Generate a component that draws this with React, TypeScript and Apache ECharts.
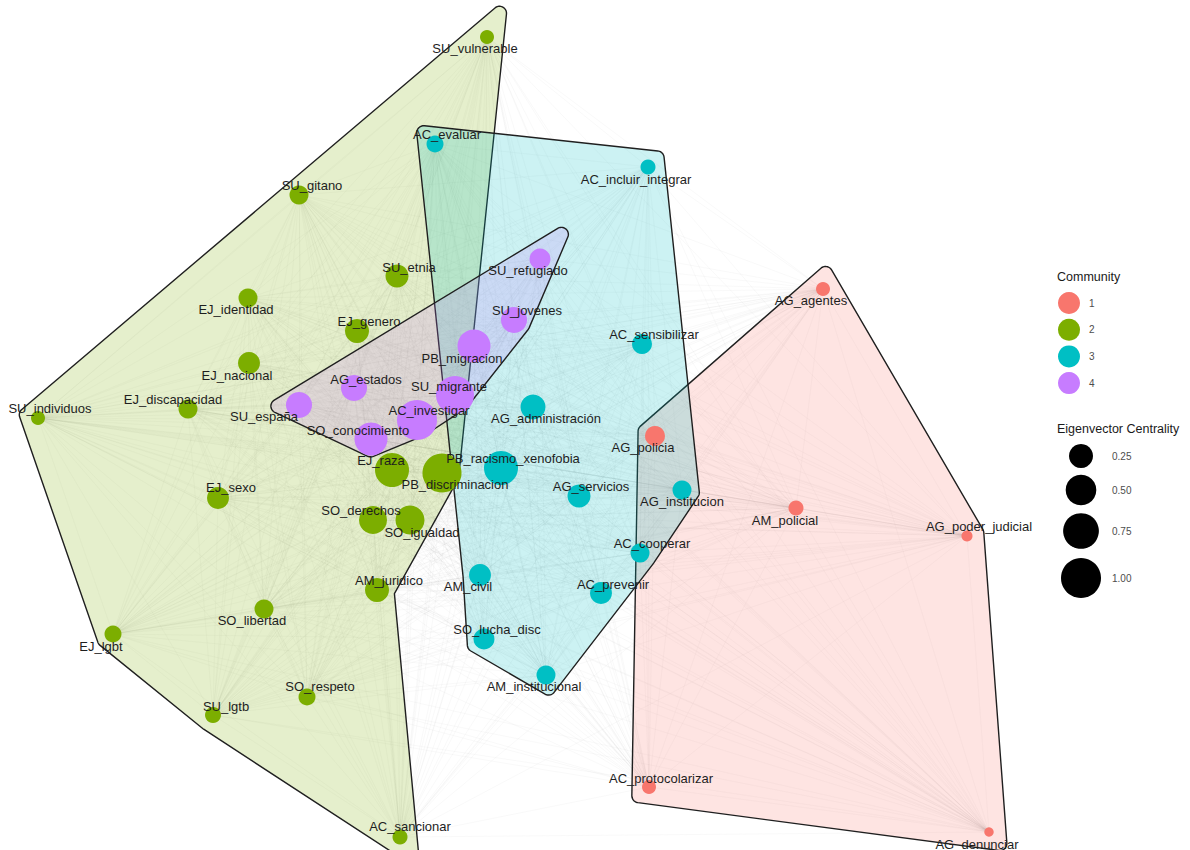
import React, { useEffect, useRef } from "react";
import * as echarts from "echarts";

// ---------------- DATA ----------------
const nodeNames = [
  "AG_agentes", "AG_policia", "AM_policial", "AG_poder_judicial", "AC_protocolarizar", "AG_denunciar",
  "SU_vulnerable", "SU_gitano", "SU_etnia", "EJ_identidad", "EJ_genero", "EJ_nacional", "EJ_discapacidad",
  "SU_individuos", "EJ_raza", "PB_discriminacion", "EJ_sexo", "SO_derechos", "SO_igualdad", "AM_juridico",
  "SO_libertad", "EJ_lgbt", "SO_respeto", "SU_lgtb", "AC_sancionar",
  "AC_evaluar", "AC_incluir_integrar", "AC_sensibilizar", "AG_administración", "PB_racismo_xenofobia",
  "AG_servicios", "AG_institucion", "AC_cooperar", "AC_prevenir", "AM_civil", "SO_lucha_disc", "AM_institucional",
  "SU_refugiado", "SU_jovenes", "PB_migracion", "AG_estados", "SU_migrante", "SU_españa", "AC_investigar",
  "SO_conocimiento",
];
// layout coordinates
const layoutX = [
  823, 655, 796, 967, 649, 989,
  487, 299, 397, 248, 357, 249, 188,
  38, 392, 442, 218, 373, 410, 377,
  264, 113, 307, 213, 400,
  435, 648, 642, 533, 501,
  579, 682, 640, 601, 480, 484, 546,
  540, 514, 474, 354, 455, 299, 417,
  371,
];
const layoutY = [
  289, 436, 508, 536, 787, 832,
  37, 195, 276, 298, 331, 363, 409,
  418, 470, 473, 498, 520, 520, 590,
  609, 634, 697, 715, 837,
  144, 167, 344, 407, 468,
  496, 490, 553, 593, 575, 639, 675,
  259, 320, 346, 388, 395, 405, 420,
  439,
];
const communityOf = [
  1, 1, 1, 1, 1, 1,
  2, 2, 2, 2, 2, 2, 2,
  2, 2, 2, 2, 2, 2, 2,
  2, 2, 2, 2, 2,
  3, 3, 3, 3, 3,
  3, 3, 3, 3, 3, 3, 3,
  4, 4, 4, 4, 4, 4, 4,
  4,
];
const eigenCentrality = [
  0.035, 0.14, 0.048, 0.009, 0.035, 0.002,
  0.035, 0.118, 0.22, 0.118, 0.25, 0.19, 0.118,
  0.035, 0.66, 0.94, 0.19, 0.39, 0.43, 0.25,
  0.118, 0.079, 0.079, 0.0625, 0.048,
  0.079, 0.048, 0.14, 0.28, 0.66,
  0.22, 0.118, 0.118, 0.19, 0.19, 0.165, 0.118,
  0.165, 0.32, 0.61, 0.32, 0.88, 0.32, 1.0,
  0.61,
];

const communityLabels = ["1", "2", "3", "4"];
const sizeBreaks = [0.25, 0.5, 0.75, 1.0];
const sizeBreakLabels = ["0.25", "0.50", "0.75", "1.00"];

// outline order of each community's (concave) hull
const hullRed = ["AG_agentes", "AG_poder_judicial", "AG_denunciar", "AC_protocolarizar", "AG_policia"];
const hullGreen = ["SU_vulnerable", "PB_discriminacion", "AM_juridico", "AC_sancionar", "SU_lgtb", "EJ_lgbt", "SU_individuos"];
const hullCyan = ["AC_evaluar", "AC_incluir_integrar", "AG_institucion", "AC_cooperar", "AM_institucional", "SO_lucha_disc", "AM_civil"];
const hullPurple = ["SU_refugiado", "SU_jovenes", "SU_migrante", "AC_investigar", "SO_conocimiento", "SU_españa"];
const hulls = [hullRed, hullGreen, hullCyan, hullPurple];

// ---------------- STYLE ----------------
const COLORS = ["#F8766D", "#7CAE00", "#00BFC4", "#C77CFF"];
const FILLS = [
  "rgba(248,118,109,0.2)",
  "rgba(124,174,0,0.2)",
  "rgba(0,191,196,0.2)",
  "rgba(199,124,255,0.2)",
];
const FONT = "'Liberation Sans', Arial, Helvetica, sans-serif";
const sizeOf = (c: number) => 8 + 32 * Math.sqrt(c);

const labelNudge: Record<string, [number, number]> = {
  AG_agentes: [-12, 11], AG_policia: [-12, 11], AM_policial: [-11, 12], AG_poder_judicial: [12, -10],
  AC_protocolarizar: [12, -9], AG_denunciar: [-12, 12],
  SU_vulnerable: [-12, 11], SU_gitano: [13, -10], SU_etnia: [12, -9], EJ_identidad: [-12, 11],
  EJ_genero: [12, -10], EJ_nacional: [-12, 12], EJ_discapacidad: [-15, -10], SU_individuos: [12, -10],
  EJ_raza: [-11, -10], PB_discriminacion: [13, 11], EJ_sexo: [13, -11], SO_derechos: [-12, -10],
  SO_igualdad: [12, 12], AM_juridico: [12, -10], SO_libertad: [-12, 11], EJ_lgbt: [-12, 12],
  SO_respeto: [13, -11], SU_lgtb: [13, -9], AC_sancionar: [10, -11],
  AC_evaluar: [12, -10], AC_incluir_integrar: [-12, 12], AC_sensibilizar: [12, -10],
  "AG_administración": [13, 11], PB_racismo_xenofobia: [12, -10], AG_servicios: [12, -10],
  AG_institucion: [0, 11], AC_cooperar: [12, -10], AC_prevenir: [12, -9], AM_civil: [-12, 11],
  SO_lucha_disc: [13, -10], AM_institucional: [-12, 11],
  SU_refugiado: [-12, 11], SU_jovenes: [13, -10], PB_migracion: [-12, 12], AG_estados: [12, -9],
  SU_migrante: [-6, -9], "SU_españa": [-35, 11], AC_investigar: [12, -10], SO_conocimiento: [-13, -9],
};

// expanded, rounded outline around a polygon (screen coords)
function hullOutline(pts: number[][], E: number, R: number): number[][] {
  const n = pts.length;
  let area = 0;
  for (let i = 0; i < n; i++) {
    const a = pts[i], b = pts[(i + 1) % n];
    area += a[0] * b[1] - b[0] * a[1];
  }
  const s = area > 0 ? 1 : -1;
  const out: number[][] = [];
  for (let i = 0; i < n; i++) {
    const a = pts[(i - 1 + n) % n], b = pts[i], c = pts[(i + 1) % n];
    let d1x = b[0] - a[0], d1y = b[1] - a[1];
    const l1 = Math.hypot(d1x, d1y); d1x /= l1; d1y /= l1;
    let d2x = c[0] - b[0], d2y = c[1] - b[1];
    const l2 = Math.hypot(d2x, d2y); d2x /= l2; d2y /= l2;
    const n1x = s * d1y, n1y = -s * d1x;
    const n2x = s * d2y, n2y = -s * d2x;
    let mx = n1x + n2x, my = n1y + n2y;
    const ml = Math.hypot(mx, my) || 1; mx /= ml; my /= ml;
    const cosH = Math.max(0.2, mx * n1x + my * n1y);
    const cross = d1x * d2y - d1y * d2x;
    if (cross * s > 0) {
      const L = (E - R) / cosH;
      const qx = b[0] + mx * L, qy = b[1] + my * L;
      const a1 = Math.atan2(n1y, n1x);
      const a2 = Math.atan2(n2y, n2x);
      let delta = a2 - a1;
      while (delta > Math.PI) delta -= 2 * Math.PI;
      while (delta < -Math.PI) delta += 2 * Math.PI;
      const steps = Math.max(2, Math.ceil(Math.abs(delta) / (Math.PI / 24)));
      for (let k = 0; k <= steps; k++) {
        const t = a1 + (delta * k) / steps;
        out.push([qx + R * Math.cos(t), qy + R * Math.sin(t)]);
      }
    } else {
      const L = E / cosH;
      out.push([b[0] + mx * L, b[1] + my * L]);
    }
  }
  return out;
}

export default function App() {
  const ref = useRef<HTMLDivElement>(null);
  useEffect(() => {
    if (!ref.current) return;
    const chart = echarts.init(ref.current, undefined, { renderer: "svg" });

    const edges: any[] = [];
    for (let i = 0; i < nodeNames.length; i++) {
      for (let j = i + 1; j < nodeNames.length; j++) {
        edges.push({ coords: [[layoutX[i], layoutY[i]], [layoutX[j], layoutY[j]]] });
      }
    }

    const nodes = nodeNames.map((nm, i) => ({
      name: nm,
      value: [layoutX[i], layoutY[i]],
      symbolSize: sizeOf(eigenCentrality[i]),
      itemStyle: { color: COLORS[communityOf[i] - 1], opacity: 1 },
      label: { offset: labelNudge[nm] || [12, -10] },
    }));

    const legendGraphics: any[] = [];
    legendGraphics.push({
      type: "text", x: 1057, y: 277,
      style: { text: "Community", fontSize: 12.5, fill: "#1a1a1a", fontFamily: FONT, verticalAlign: "middle", align: "left" },
    });
    communityLabels.forEach((lb, k) => {
      const cy = 303 + k * 26.7;
      legendGraphics.push({ type: "circle", shape: { cx: 1069, cy, r: 11 }, style: { fill: COLORS[k] } });
      legendGraphics.push({
        type: "text", x: 1089, y: cy,
        style: { text: lb, fontSize: 10, fill: "#4d4d4d", fontFamily: FONT, verticalAlign: "middle", align: "left" },
      });
    });
    legendGraphics.push({
      type: "text", x: 1057, y: 429,
      style: { text: "Eigenvector Centrality", fontSize: 12.5, fill: "#1a1a1a", fontFamily: FONT, verticalAlign: "middle", align: "left" },
    });
    const sizeY = [456, 490, 531, 578];
    sizeBreaks.forEach((c, k) => {
      legendGraphics.push({ type: "circle", shape: { cx: 1081, cy: sizeY[k], r: sizeOf(c) / 2 }, style: { fill: "#000" } });
      legendGraphics.push({
        type: "text", x: 1112, y: sizeY[k],
        style: { text: sizeBreakLabels[k], fontSize: 10, fill: "#4d4d4d", fontFamily: FONT, verticalAlign: "middle", align: "left" },
      });
    });

    chart.setOption({
      animation: false,
      backgroundColor: "#ffffff",
      grid: { left: 0, right: 0, top: 0, bottom: 0, containLabel: false },
      xAxis: { type: "value", min: 0, max: 1190, show: false },
      yAxis: { type: "value", min: 0, max: 850, inverse: true, show: false },
      graphic: legendGraphics,
      series: [
        {
          type: "lines",
          coordinateSystem: "cartesian2d",
          silent: true,
          z: 1,
          polyline: false,
          lineStyle: { color: "#a4a4a4", width: 0.55, opacity: 0.13 },
          data: edges,
        },
        {
          type: "custom",
          coordinateSystem: "cartesian2d",
          silent: true,
          z: 2,
          clip: false,
          encode: { x: 0, y: 1 },
          data: hulls.map((_, i) => [layoutX[0], layoutY[0], i]),
          renderItem: (params: any, api: any) => {
            const names = hulls[params.dataIndex];
            const pts = names.map((nm) => {
              const i = nodeNames.indexOf(nm);
              return api.coord([layoutX[i], layoutY[i]]);
            });
            const outline = hullOutline(pts, 17, 7);
            return {
              type: "polygon",
              shape: { points: outline },
              style: { fill: FILLS[params.dataIndex], stroke: "#1f1f1f", lineWidth: 1.4 },
            };
          },
        },
        {
          type: "scatter",
          coordinateSystem: "cartesian2d",
          z: 3,
          silent: true,
          symbol: "circle",
          data: nodes,
          itemStyle: { opacity: 1 },
          label: {
            show: true,
            formatter: "{b}",
            position: "inside",
            color: "#1e1e1e",
            fontSize: 13,
            fontFamily: FONT,
            align: "center",
            verticalAlign: "middle",
          },
        },
      ],
    });
    return () => chart.dispose();
  }, []);

  return (
    <div
      ref={ref}
      style={{ position: "fixed", left: 0, top: 0, width: 1190, height: 850, background: "#fff" }}
    />
  );
}
